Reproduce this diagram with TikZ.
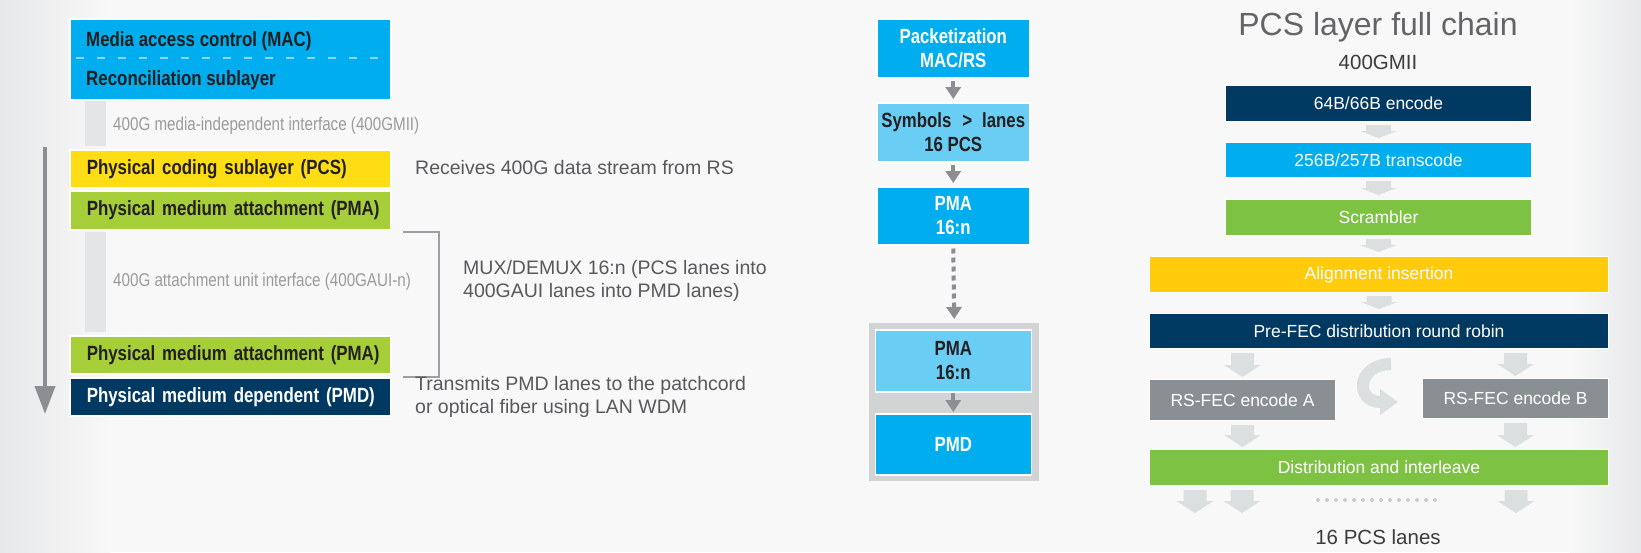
\documentclass[tikz,border=0pt]{standalone}
\usepackage{fontspec}
\setmainfont{Liberation Sans}
\newfontfamily\condfont{Liberation Sans}[FakeStretch=0.82]
\usetikzlibrary{arrows.meta,calc}

\definecolor{bgc}{HTML}{F8F8F8}
\definecolor{edgec}{HTML}{E7E8E9}
\definecolor{macblue}{HTML}{00ADEE}
\definecolor{dashblue}{HTML}{8ED4F5}
\definecolor{pcsyellow}{HTML}{FFDD15}
\definecolor{pmagreen}{HTML}{A6CE39}
\definecolor{navy}{HTML}{003A63}
\definecolor{bargray}{HTML}{E4E5E7}
\definecolor{ink}{HTML}{231F20}
\definecolor{arrowgray}{HTML}{8C8E91}
\definecolor{bracketgray}{HTML}{9C9EA1}
\definecolor{labelgray}{HTML}{9B9B9B}
\definecolor{notegray}{HTML}{58595B}
\definecolor{skyblue}{HTML}{6ACDF4}
\definecolor{framegray}{HTML}{D1D3D4}
\definecolor{chaingreen}{HTML}{7DC242}
\definecolor{chainyellow}{HTML}{FFCB0B}
\definecolor{fecgray}{HTML}{8A8F94}
\definecolor{flowfill}{HTML}{DCDFE0}
\definecolor{titlegray}{HTML}{636466}
\definecolor{subgray}{HTML}{3C3C3C}

% light block arrows of the PCS chain
\newcommand\smallflow[2]{%
  \fill[flowfill] let \p1=(#1), \p2=(#2) in
    (\x1-12.5pt,\y1-3pt) -- (\x1+12.5pt,\y1-3pt) -- (\x1+12.5pt,\y2+11pt)
    -- (\x1+18.5pt,\y2+11pt) -- (\x1,\y2+4pt) -- (\x1-18.5pt,\y2+11pt)
    -- (\x1-12.5pt,\y2+11pt) -- cycle;}
\newcommand\bigflow[2]{%
  \fill[flowfill] let \p1=(#1), \p2=(#2) in
    (\x1-11.5pt,\y1-4pt) -- (\x1+11.5pt,\y1-4pt) -- (\x1+11.5pt,\y2+14pt)
    -- (\x1+18.5pt,\y2+14pt) -- (\x1,\y2+2pt) -- (\x1-18.5pt,\y2+14pt)
    -- (\x1-11.5pt,\y2+14pt) -- cycle;}

\begin{document}
\begin{tikzpicture}[x=1pt,y=-1pt,
  layer/.style={draw=white, line width=1.5pt, anchor=north west,
    minimum width=321pt, text width=304pt, inner xsep=8.5pt, inner ysep=0pt,
    align=left, text=ink, execute at begin node=\hspace*{8.5pt},
    font=\condfont\bfseries\fontsize{20.6pt}{24pt}\selectfont},
  layertext/.style={anchor=west, inner sep=0pt, text=ink,
    font=\condfont\bfseries\fontsize{20.6pt}{24pt}\selectfont},
  iface/.style={anchor=north west, fill=bargray, minimum width=21pt, inner sep=0pt},
  ifacetext/.style={anchor=west, inner sep=0pt, text=labelgray,
    font=\condfont\fontsize{18.5pt}{22pt}\selectfont},
  note/.style={anchor=west, inner sep=0pt, align=left, text=notegray,
    font=\fontsize{19.5pt}{23.5pt}\selectfont},
  stage/.style={draw=white, line width=1.5pt, anchor=north west, minimum width=153pt,
    inner sep=0pt, align=center, text=white,
    font=\condfont\bfseries\fontsize{20.5pt}{24pt}\selectfont},
  chainbox/.style={draw=white, line width=1pt, anchor=north west, inner sep=0pt,
    text=white, font=\fontsize{17.5pt}{20pt}\selectfont},
  midflow/.style={arrowgray, line width=4pt, -{Triangle[width=15pt,length=12pt]}},
  layerflow/.style={arrowgray, line width=4pt, -{Triangle[width=20pt,length=28pt]}},
]
\useasboundingbox (0,0) rectangle (1641,552);

% backdrop
\fill[bgc] (0,0) rectangle (1641,552);
\shade[left color=edgec, right color=bgc] (0,0) rectangle (110,552);
\shade[left color=bgc, right color=edgec] (1570,0) rectangle (1641,552);

% ---------------- layer stack ----------------
\node[layer, fill=macblue, minimum height=81pt] (macrs) at (69,18) {};
\node[layertext] (mac) at (86,41) {Media access control (MAC)};
\node[layertext] (rs) at (86,80) {Reconciliation sublayer};
\draw[dashblue, line width=2pt, dash pattern=on 8pt off 13pt] (76,58) -- (385,58);

\node[iface, minimum height=45pt] (gmii) at (85,101) {};
\node[ifacetext] (gmiitext) at (113,126) {400G media-independent interface (400GMII)};

\node[layer, fill=pcsyellow, minimum height=38pt] (pcs) at (69,149) {Physical coding sublayer (PCS)};
\node[layer, fill=pmagreen, minimum height=39pt] (pmaA) at (69,190) {Physical medium attachment (PMA)};

\node[iface, minimum height=100pt] (gaui) at (85,232) {};
\node[ifacetext] (gauitext) at (113,282) {400G attachment unit interface (400GAUI-n)};

\node[layer, fill=pmagreen, minimum height=38pt] (pmaB) at (69,335) {Physical medium attachment (PMA)};
\node[layer, fill=navy, text=white, minimum height=38pt] (pmd) at (69,377) {Physical medium dependent (PMD)};

\coordinate (flowtop) at (45,147);
\coordinate (flowend) at (45,414);
\draw[layerflow] (flowtop) -- (flowend);

\coordinate (brtop) at (403,232);
\coordinate (brbot) at (403,377);
\draw[bracketgray, line width=2.5pt] (brtop) -- (439,232) -- (439,377) -- (brbot);

\node[note] (recv) at (415,168) {Receives 400G data stream from RS};
\node[note] (mux) at (463,281) {MUX/DEMUX 16:n (PCS lanes into\\400GAUI lanes into PMD lanes)};
\node[note, font=\fontsize{19.5pt}{23pt}\selectfont] (txmit) at (415,397) {Transmits PMD lanes to the patchcord\\or optical fiber using LAN WDM};

% ---------------- data path ----------------
\node[stage, fill=macblue, minimum height=59pt] (pkt) at (876,18) {Packetization\\MAC/RS};
\node[stage, fill=skyblue, text=ink, minimum height=59pt] (sym) at (876,102) {Symbols\hspace{11pt}>\hspace{10pt}lanes\\16 PCS};
\node[stage, fill=macblue, minimum height=58pt] (pmaX) at (876,186) {PMA\\16:n};

\node[anchor=north west, fill=framegray, minimum width=170pt, minimum height=158pt, inner sep=0pt] (frame) at (869,323) {};
\node[stage, fill=skyblue, text=ink, minimum width=156pt, minimum height=62pt] (pmaY) at (874.5,329) {PMA\\16:n};
\node[stage, fill=macblue, minimum width=156pt, minimum height=61pt] (pmdY) at (874.5,413) {PMD};

\draw[midflow] ([yshift=-2pt]pkt.south) -- ([yshift=3pt]sym.north);
\draw[midflow] ([yshift=-2pt]sym.south) -- ([yshift=3pt]pmaX.north);
\draw[midflow, dash pattern=on 5pt off 4pt] ([yshift=-3pt]pmaX.south) -- ([yshift=4pt]frame.north);
\draw[midflow] (pmaY.south) -- ([yshift=1pt]pmdY.north);

% ---------------- PCS chain ----------------
\node[text=titlegray, font=\fontsize{32pt}{36pt}\selectfont] (title) at (1378,27) {PCS layer full chain};
\node[text=subgray, font=\fontsize{20.5pt}{24pt}\selectfont] (gmiiin) at (1378,62) {400GMII};

\node[chainbox, fill=navy, minimum width=306pt, minimum height=36pt] (enc) at (1225,85) {64B/66B encode};
\node[chainbox, fill=macblue, minimum width=306pt, minimum height=35pt] (trans) at (1225,142) {256B/257B transcode};
\node[chainbox, fill=chaingreen, minimum width=306pt, minimum height=36pt] (scr) at (1225,199) {Scrambler};
\node[chainbox, fill=chainyellow, minimum width=459pt, minimum height=36pt] (align) at (1149,256) {Alignment insertion};
\node[chainbox, fill=navy, minimum width=459pt, minimum height=35pt] (pre) at (1149,313) {Pre-FEC distribution round robin};
\node[chainbox, fill=fecgray, minimum width=186pt, minimum height=41pt] (rsa) at (1149,379) {RS-FEC encode A};
\node[chainbox, fill=fecgray, minimum width=186pt, minimum height=40pt] (rsb) at (1422,378) {RS-FEC encode B};
\node[chainbox, fill=chaingreen, minimum width=459pt, minimum height=36pt] (dist) at (1149,449) {Distribution and interleave};

\smallflow{enc.south}{trans.north}
\smallflow{trans.south}{scr.north}
\smallflow{scr.south}{align.north}
\smallflow{align.south}{pre.north}
\bigflow{pre.south -| rsa.north}{rsa.north}
\bigflow{pre.south -| rsb.north}{rsb.north}
\bigflow{rsa.south}{dist.north -| rsa.south}
\bigflow{rsb.south}{dist.north -| rsb.south}

\coordinate (laneA) at (1195,515);
\coordinate (laneB) at (1242,515);
\coordinate (laneP) at (1516,515);
\bigflow{dist.south -| laneA}{laneA}
\bigflow{dist.south -| laneB}{laneB}
\bigflow{dist.south -| laneP}{laneP}

\foreach \k in {0,...,13} \fill[flowfill!80!gray] (1318+9*\k,500) circle (2pt);

% round-robin turn between the two encoders
\draw[flowfill, line width=12pt, -{Triangle[width=25pt,length=18pt]}]
  (1391,364) .. controls (1357,364) and (1354,402) .. (1398,402);

\node[text=subgray, font=\fontsize{20.5pt}{24pt}\selectfont] (lanes) at (1378,537) {16 PCS lanes};
\end{tikzpicture}
\end{document}
